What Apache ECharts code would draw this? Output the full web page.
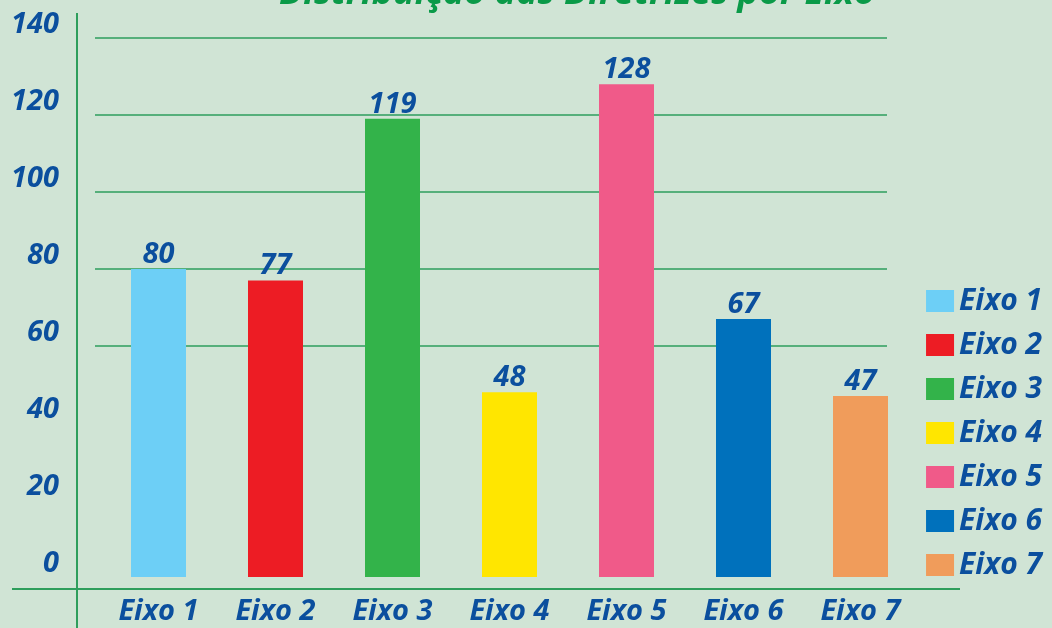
<!DOCTYPE html>
<html><head><meta charset="utf-8">
<script src="https://cdn.jsdelivr.net/npm/echarts@6/dist/echarts.min.js"></script>
<style>html,body{margin:0;padding:0;background:#d0e4d5;}#c{width:1052px;height:628px;}</style>
</head><body><div id="c"></div>
<script>
const categories = ['Eixo 1','Eixo 2','Eixo 3','Eixo 4','Eixo 5','Eixo 6','Eixo 7'];
const values = [80, 77, 119, 48, 128, 67, 47];
const colors = ['#6dcff6','#ed1c24','#33b34a','#ffe600','#f05a89','#0071bc','#f09c5b'];
const yTicks = {min: 0, max: 140, interval: 20};
const gridFrom = 60;
const titleText = 'Distribuição das Diretrizes por Eixo';

const BLUE = '#0b4f9e';
const GREEN = '#2e9e5c';
const FONT = "'Open Sans',sans-serif";
const txt = {color: BLUE, fontFamily: FONT, fontWeight: 'bold', fontStyle: 'italic', fontSize: 29};

const splitColors = [];
for (let v = yTicks.min; v <= yTicks.max; v += yTicks.interval) splitColors.push(v >= gridFrom ? GREEN : 'rgba(0,0,0,0)');

const series = categories.map((name, i) => ({
  name: name,
  type: 'bar',
  xAxisIndex: 0, yAxisIndex: 0,
  barWidth: 55,
  barGap: '-100%',
  itemStyle: {color: colors[i]},
  label: Object.assign({show: true, position: 'top', distance: 0}, txt),
  data: values.map((v, j) => j === i ? v : '-')
}));

const chart = echarts.init(document.getElementById('c'));
chart.setOption({
  backgroundColor: '#d0e4d5',
  animation: false,
  title: {text: titleText, left: 274, top: -29,
    textStyle: {color: '#0a9a48', fontFamily: FONT, fontWeight: 'bold', fontStyle: 'italic', fontSize: 36}},
  legend: {orient: 'vertical', right: 5, top: 281, itemWidth: 28, itemHeight: 22, itemGap: 14,
    icon: 'rect', data: categories,
    textStyle: Object.assign({}, txt, {fontSize: 30})},
  grid: [
    {left: 100, right: 133, top: 38, bottom: 51},
    {left: 95, right: 165, top: 38, bottom: 51}
  ],
  xAxis: [
    {type: 'category', gridIndex: 0, data: categories,
      axisLine: {show: false}, axisTick: {show: false},
      axisLabel: Object.assign({margin: 20}, txt)},
    {type: 'value', gridIndex: 1, min: 0, max: 1, show: false}
  ],
  yAxis: [
    {type: 'value', gridIndex: 0, min: yTicks.min, max: yTicks.max, interval: yTicks.interval,
      axisLine: {show: false}, axisTick: {show: false}, splitLine: {show: false},
      axisLabel: Object.assign({margin: 41, verticalAlign: 'bottom', lineHeight: 26}, txt)},
    {type: 'value', gridIndex: 1, min: yTicks.min, max: yTicks.max, interval: yTicks.interval,
      axisLine: {show: false}, axisTick: {show: false}, axisLabel: {show: false},
      splitLine: {show: true, lineStyle: {color: splitColors, width: 1.5}}}
  ],
  graphic: [
    {type: 'line', shape: {x1: 77, y1: 13, x2: 77, y2: 628}, style: {stroke: GREEN, lineWidth: 2}},
    {type: 'line', shape: {x1: 12, y1: 589, x2: 960, y2: 589}, style: {stroke: GREEN, lineWidth: 2}}
  ],
  series: series
});
</script></body></html>
